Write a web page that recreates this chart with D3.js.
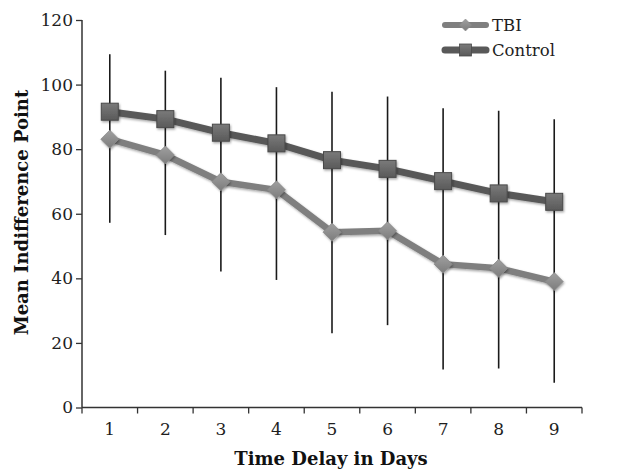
<!DOCTYPE html>
<html>
<head>
<meta charset="utf-8">
<script src="https://cdn.jsdelivr.net/npm/d3@7"></script>
<style>
  html, body { margin: 0; padding: 0; background: #fff; }
  svg { display: block; }
</style>
</head>
<body>
<svg id="chart" width="619" height="472"></svg>
<script>
// ---- data ----
const days = ["1", "2", "3", "4", "5", "6", "7", "8", "9"];
const controlMeans = [91.6, 89.3, 85.1, 81.8, 76.6, 73.9, 70.1, 66.3, 63.7];
const tbiMeans = [83.1, 78.2, 69.9, 67.4, 54.3, 54.7, 44.4, 43.1, 39.0];
const controlErrPlus = [17.8, 15.0, 17.0, 17.4, 21.2, 22.4, 22.6, 25.6, 25.6];
const tbiErrMinus = [25.9, 24.8, 27.8, 27.9, 31.3, 29.2, 32.6, 31.0, 31.3];
const yTicks = [0, 20, 40, 60, 80, 100, 120];
const seriesNames = ["TBI", "Control"];

const svg = d3.select("#chart");
const pLeft = 82, pRight = 582, pTop = 20, pBottom = 407.5;

const x = d3.scaleBand().domain(days).range([pLeft, pRight]).padding(0);
const y = d3.scaleLinear().domain([0, 120]).range([pBottom, pTop]);
const cx = d => x(d) + x.bandwidth() / 2;

const serif = "'DejaVu Serif', 'Liberation Serif', serif";

// defs: gradients and shadow
const defs = svg.append("defs");
const f = defs.append("filter").attr("id", "shadow").attr("x", "-50%").attr("y", "-50%").attr("width", "200%").attr("height", "200%");
f.append("feDropShadow").attr("dx", 1).attr("dy", 1.5).attr("stdDeviation", 1.2).attr("flood-color", "#000").attr("flood-opacity", 0.35);

const gS = defs.append("linearGradient").attr("id", "gradSq").attr("x1", 0).attr("y1", 0).attr("x2", 0).attr("y2", 1);
gS.append("stop").attr("offset", "0%").attr("stop-color", "#7a7a7a");
gS.append("stop").attr("offset", "100%").attr("stop-color", "#5a5a5a");
const gD = defs.append("linearGradient").attr("id", "gradDi").attr("x1", 0).attr("y1", 0).attr("x2", 0).attr("y2", 1);
gD.append("stop").attr("offset", "0%").attr("stop-color", "#a0a0a0");
gD.append("stop").attr("offset", "100%").attr("stop-color", "#7c7c7c");

// y axis
const yAxis = svg.append("g")
  .attr("transform", `translate(${pLeft},0)`)
  .call(d3.axisLeft(y).tickValues(yTicks).tickSize(6).tickPadding(3));
yAxis.select(".domain").attr("stroke", "#333").attr("stroke-width", 1.5).attr("d", `M0,${pTop}V${pBottom}`);
yAxis.selectAll(".tick line").attr("stroke", "#333").attr("stroke-width", 1.3).attr("x1", -6).attr("x2", 0);
yAxis.selectAll(".tick text").attr("font-family", serif).attr("font-size", 17).attr("fill", "#1e1e1e");

// x axis
const xAxis = svg.append("g")
  .attr("transform", `translate(0,${pBottom})`)
  .call(d3.axisBottom(x).tickSize(0).tickPadding(15));
xAxis.select(".domain").attr("stroke", "#333").attr("stroke-width", 1.5).attr("d", `M${pLeft},0H${pRight}`);
xAxis.selectAll(".tick text").attr("font-family", serif).attr("font-size", 17).attr("fill", "#1e1e1e");
// boundary ticks
const bounds = days.map(d => x(d)).concat([x(days[days.length - 1]) + x.bandwidth()]);
xAxis.selectAll(".btick").data(bounds).join("line")
  .attr("x1", d => d).attr("x2", d => d).attr("y1", 0).attr("y2", 6)
  .attr("stroke", "#333").attr("stroke-width", 1.3);

// axis titles
svg.append("text")
  .attr("x", (pLeft + pRight) / 2 - 1).attr("y", 465)
  .attr("text-anchor", "middle")
  .attr("font-family", serif).attr("font-weight", "bold").attr("font-size", 18).attr("fill", "#111")
  .text("Time Delay in Days");
svg.append("text")
  .attr("transform", `translate(28,${(95 + 330) / 2}) rotate(-90)`)
  .attr("text-anchor", "middle")
  .attr("font-family", serif).attr("font-weight", "bold").attr("font-size", 18).attr("fill", "#111")
  .text("Mean Indifference Point");

// lines
const lineGen = vals => d3.line().x((v, i) => cx(days[i])).y(v => y(v))(vals);
svg.append("path").attr("d", lineGen(tbiMeans)).attr("fill", "none")
  .attr("stroke", "#7f7f7f").attr("stroke-width", 6.5).attr("stroke-linejoin", "round").attr("filter", "url(#shadow)");
svg.append("path").attr("d", lineGen(controlMeans)).attr("fill", "none")
  .attr("stroke", "#595959").attr("stroke-width", 7).attr("stroke-linejoin", "round").attr("filter", "url(#shadow)");

// error bars
days.forEach((d, i) => {
  svg.append("line")
    .attr("x1", cx(d)).attr("x2", cx(d))
    .attr("y1", y(controlMeans[i] + controlErrPlus[i]))
    .attr("y2", y(tbiMeans[i] - tbiErrMinus[i]))
    .attr("stroke", "#1a1a1a").attr("stroke-width", 1.6);
});

// markers
const diamond = s => `M0,${-s}L${s},0L0,${s}L${-s},0Z`;
svg.append("g").selectAll("path").data(tbiMeans).join("path")
  .attr("transform", (v, i) => `translate(${cx(days[i])},${y(v)})`)
  .attr("d", diamond(9))
  .attr("fill", "url(#gradDi)").attr("stroke", "#8a8a8a").attr("stroke-width", 0.8)
  .attr("filter", "url(#shadow)");
svg.append("g").selectAll("rect").data(controlMeans).join("rect")
  .attr("x", (v, i) => cx(days[i]) - 8.5).attr("y", v => y(v) - 8.5)
  .attr("width", 17).attr("height", 17)
  .attr("fill", "url(#gradSq)").attr("stroke", "#4a4a4a").attr("stroke-width", 1)
  .attr("filter", "url(#shadow)");

// legend
const lg = svg.append("g");
const legY = [25, 50];
seriesNames.forEach((name, i) => {
  const yy = legY[i];
  lg.append("line").attr("x1", 445).attr("x2", 486).attr("y1", yy).attr("y2", yy)
    .attr("stroke", i === 0 ? "#7f7f7f" : "#595959").attr("stroke-width", i === 0 ? 6 : 7)
    .attr("stroke-linecap", "round");
  if (i === 0) {
    lg.append("path").attr("transform", `translate(465.5,${yy})`).attr("d", diamond(6))
      .attr("fill", "url(#gradDi)").attr("stroke", "#8a8a8a").attr("stroke-width", 0.6);
  } else {
    lg.append("rect").attr("x", 459.5).attr("y", yy - 6).attr("width", 12).attr("height", 12)
      .attr("fill", "url(#gradSq)").attr("stroke", "#4a4a4a").attr("stroke-width", 0.8);
  }
  lg.append("text").attr("x", 492).attr("y", yy + 6)
    .attr("font-family", serif).attr("font-size", 16.5).attr("fill", "#1e1e1e").text(name);
});
</script>
</body>
</html>
